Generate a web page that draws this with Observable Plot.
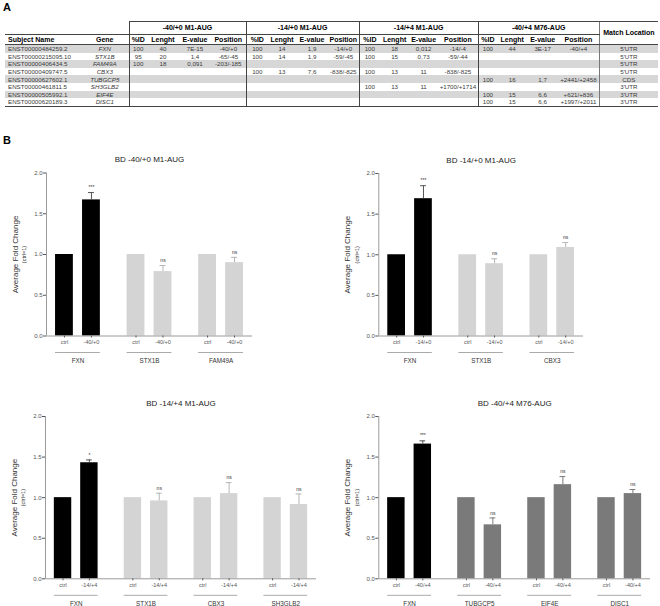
<!DOCTYPE html>
<html>
<head>
<meta charset="utf-8">
<script src="https://cdn.jsdelivr.net/npm/d3@7"></script>
<script src="https://cdn.jsdelivr.net/npm/@observablehq/plot@0.6"></script>
<style>
  body { margin: 0; background: #fff; }
  #fig { position: relative; width: 660px; height: 606px; font-family: "Liberation Sans", Arial, sans-serif; overflow: hidden; color: #000; }
  .lbl { position: absolute; font-weight: bold; font-size: 11px; line-height: 11px; }
  table { position: absolute; left: 5px; top: 21px; width: 653px; table-layout: fixed; border-collapse: collapse; }
  td, th { padding: 0; white-space: nowrap; overflow: hidden; text-align: center; }
  th { color: #000; }
  tr.g th { height: 12px; font-size: 7px; line-height: 8px; font-weight: bold; }
  tr.h th { height: 9px; font-size: 7px; line-height: 8px; font-weight: bold; }
  tr.d td { height: 7.6px; font-size: 6.2px; line-height: 7px; color: #3a3a3a; }
  tr.s td { background: #d7d7d7; }
  .bt { border-top: 1px solid #444; }
  .bb { border-bottom: 1px solid #444; }
  .bl { border-left: 1px solid #444; }
  .blm { border-left: 1px solid #777; }
  .left { text-align: left; padding-left: 3px; }
  .gene { font-style: italic; }
  .chart { position: absolute; }
</style>
</head>
<body>
<div id="fig">
  <div class="lbl" style="left:3px;top:1.6px">A</div>
  <div class="lbl" style="left:3px;top:134.6px">B</div>
  <table id="tbl"></table>
  <div class="chart" id="c1" style="left:0px;top:150px"></div>
  <div class="chart" id="c2" style="left:330px;top:150px"></div>
  <div class="chart" id="c3" style="left:0px;top:393px"></div>
  <div class="chart" id="c4" style="left:330px;top:393px"></div>
</div>
<script>
// ---------- Table data ----------
const tblSubjects = ["ENST00000484259.2","ENST00000215095.10","ENST00000406434.5","ENST00000409747.5","ENST00000627602.1","ENST00000461811.5","ENST00000505992.1","ENST00000620189.3"];
const tblGenes = ["FXN","STX1B","FAM49A","CBX3","TUBGCP5","SH3GLB2","EIF4E","DISC1"];
const grpNames = ["-40/+0 M1-AUG","-14/+0 M1-AUG","-14/+4 M1-AUG","-40/+4 M76-AUG"];
const subHeads = ["%ID","Lenght","E-value","Position"];
const grp1 = [["100","40","7E-15","-40/+0"],["95","20","1,4","-65/-45"],["100","18","0,091","-203/-185"],null,null,null,null,null];
const grp2 = [["100","14","1,9","-14/+0"],["100","14","1,9","-59/-45"],null,["100","13","7,6","-838/-825"],null,null,null,null];
const grp3 = [["100","18","0,012","-14/-4"],["100","15","0,73","-59/-44"],null,["100","13","11","-838/-825"],null,["100","13","11","+1700/+1714"],null,null];
const grp4 = [["100","44","3E-17","-40/+4"],null,null,null,["100","16","1,7","+2441/+2458"],null,["100","15","6,6","+621/+836"],["100","15","6,6","+1997/+2011"]];
const matchLoc = ["5'UTR","5'UTR","5'UTR","5'UTR","CDS","3'UTR","3'UTR","3'UTR"];
const colWidths = [76,48, 18,32,32,35, 22,28,32,31, 21,29,29,40, 19,30,31,41, 59];

// ---------- Chart data ----------
const c1Genes = ["FXN","STX1B","FAM49A"];
const c1Ctrl = [1,1,1];
const c1Treat = [1.67,0.79,0.90];
const c1Sem = [0.09,0.075,0.065];
const c1Sig = ["***","ns","ns"];

const c2Genes = ["FXN","STX1B","CBX3"];
const c2Ctrl = [1,1,1];
const c2Treat = [1.69,0.89,1.09];
const c2Sem = [0.16,0.06,0.06];
const c2Sig = ["***","ns","ns"];

const c3Genes = ["FXN","STX1B","CBX3","SH3GLB2"];
const c3Ctrl = [1,1,1,1];
const c3Treat = [1.43,0.96,1.05,0.915];
const c3Sem = [0.035,0.095,0.135,0.13];
const c3Sig = ["*","ns","ns","ns"];

const c4Genes = ["FXN","TUBGCP5","EIF4E","DISC1"];
const c4Ctrl = [1,1,1,1];
const c4Treat = [1.66,0.665,1.16,1.05];
const c4Sem = [0.04,0.085,0.10,0.05];
const c4Sig = ["***","ns","ns","ns"];

const yTicks = [0,0.5,1,1.5,2];

// ---------- Build table ----------
(function buildTable(){
  const groups = [grp1,grp2,grp3,grp4];
  let h = "<colgroup>" + colWidths.map(w => `<col style="width:${w}px">`).join("") + "</colgroup>";
  h += `<tr class="g"><th colspan="2"></th>`;
  grpNames.forEach(g => { h += `<th colspan="4" class="bt bb bl">${g}</th>`; });
  h += `<th rowspan="2" class="bt bb blm">Match Location</th></tr>`;
  h += `<tr class="h"><th class="bt bb left">Subject Name</th><th class="bt bb">Gene</th>`;
  grpNames.forEach(() => { subHeads.forEach((s,j) => { h += `<th class="bb${j===0?' bl':''}">${s}</th>`; }); });
  h += `</tr>`;
  tblSubjects.forEach((s,i) => {
    const last = i === tblSubjects.length-1 ? " bb" : "";
    h += `<tr class="d${i%2===0?' s':''}"><td class="left${last}">${s}</td><td class="gene${last}">${tblGenes[i]}</td>`;
    groups.forEach(g => {
      const r = g[i] || ["","","",""];
      r.forEach((v,j) => { h += `<td class="${j===0?'bl':''}${last}">${v}</td>`; });
    });
    h += `<td class="blm${last}">${matchLoc[i]}</td></tr>`;
  });
  document.getElementById("tbl").innerHTML = h;
})();

// ---------- Build charts ----------
const GSTEP = 2.65, HALF = 0.33, CAP = 0.11;
function makeChart(cfg){
  const n = cfg.genes.length;
  const bars = [], treats = [], groups = [];
  cfg.genes.forEach((g,i) => {
    const col = i === 0 ? "#000000" : cfg.other;
    const errc = i === 0 ? "#555555" : cfg.errColor;
    bars.push({gene:g, cond:"ctrl", pos:i*GSTEP, value:cfg.ctrl[i], color:col});
    const t = {gene:g, cond:cfg.treatLabel, pos:i*GSTEP+1, value:cfg.treat[i], sem:cfg.sem[i], sig:cfg.sig[i], color:col, err:errc};
    bars.push(t); treats.push(t);
    groups.push({gene:g, x1:i*GSTEP-HALF, x2:i*GSTEP+1+HALF, center:i*GSTEP+0.5});
  });
  const labelMap = new Map(bars.map(d => [d.pos, d.cond]));
  const xmin = -0.665, xmax = (n-1)*GSTEP + 1.665;
  return Plot.plot({
    width: cfg.width, height: cfg.height,
    marginLeft: cfg.ml, marginRight: cfg.mr, marginTop: cfg.mt, marginBottom: cfg.mb,
    x: {domain:[xmin,xmax], axis:null, label:null},
    y: {domain:[0,2], axis:null, label:null},
    color: {type:"identity"},
    style: {fontFamily:"Liberation Sans, Arial, sans-serif", fontSize:"6px", background:"transparent", overflow:"visible", color:"#333"},
    marks: [
      Plot.rectY(bars, {x1:d=>d.pos-HALF, x2:d=>d.pos+HALF, y1:d=>0, y2:"value", fill:"color"}),
      Plot.ruleX(treats, {x:"pos", y1:"value", y2:d=>d.value+d.sem, stroke:"err", strokeWidth:1}),
      Plot.ruleY(treats, {y:d=>d.value+d.sem, x1:d=>d.pos-CAP, x2:d=>d.pos+CAP, stroke:"err", strokeWidth:1}),
      Plot.text(treats, {x:"pos", y:d=>d.value+d.sem, text:"sig", dy:-5, fontSize:5, fill:"#333", lineAnchor:"middle"}),
      Plot.ruleY([0], {stroke:"#9a9a9a", strokeWidth:1}),
      Plot.ruleX([xmin], {y1:0, y2:2, stroke:"#9a9a9a", strokeWidth:1}),
      Plot.axisY({ticks:yTicks, tickFormat:d3.format(".1f"), tickSize:3, tickPadding:1, color:"#555", fontSize:6, label:null}),
      Plot.axisX({ticks:bars.map(d=>d.pos), tickFormat:d=>labelMap.get(d), tickSize:2, tickPadding:2, color:"#555", fontSize:5.5, label:null}),
      Plot.ruleY(groups, {y:d=>0, x1:"x1", x2:"x2", dy:16.5, stroke:"#aaaaaa", strokeWidth:1}),
      Plot.text(groups, {x:"center", y:d=>0, text:"gene", dy:25, fontSize:6.3, fill:"#333"}),
      Plot.text([cfg.title], {frameAnchor:"top", dy:-13.5, fontSize:8, fill:"#222", textAnchor:"middle", lineAnchor:"middle"}),
      Plot.text(["Average Fold Change"], {frameAnchor:"left", rotate:-90, dx:-31, fontSize:8, fill:"#333", textAnchor:"middle", lineAnchor:"middle"}),
      Plot.text(["(ctrl=1)"], {frameAnchor:"left", rotate:-90, dx:-22, fontSize:5.5, fill:"#333", textAnchor:"middle", lineAnchor:"middle"})
    ]
  });
}

const LIGHT = "#d4d4d4", LIGHTERR = "#b5b5b5", DARK = "#7a7a7a";
document.getElementById("c1").append(makeChart({genes:c1Genes, ctrl:c1Ctrl, treat:c1Treat, sem:c1Sem, sig:c1Sig, treatLabel:"-40/+0", title:"BD -40/+0 M1-AUG", other:LIGHT, errColor:LIGHTERR, width:330, height:230, ml:46, mr:78, mt:22.5, mb:44.5}));
document.getElementById("c2").append(makeChart({genes:c2Genes, ctrl:c2Ctrl, treat:c2Treat, sem:c2Sem, sig:c2Sig, treatLabel:"-14/+0", title:"BD -14/+0 M1-AUG", other:LIGHT, errColor:LIGHTERR, width:330, height:230, ml:48.3, mr:77, mt:23, mb:44.5}));
document.getElementById("c3").append(makeChart({genes:c3Genes, ctrl:c3Ctrl, treat:c3Treat, sem:c3Sem, sig:c3Sig, treatLabel:"-14/+4", title:"BD -14/+4 M1-AUG", other:LIGHT, errColor:LIGHTERR, width:330, height:213, ml:45, mr:14, mt:23, mb:27.7}));
document.getElementById("c4").append(makeChart({genes:c4Genes, ctrl:c4Ctrl, treat:c4Treat, sem:c4Sem, sig:c4Sig, treatLabel:"-40/+4", title:"BD -40/+4 M76-AUG", other:DARK, errColor:DARK, width:330, height:213, ml:48.3, mr:10, mt:23, mb:27.7}));
</script>
</body>
</html>
